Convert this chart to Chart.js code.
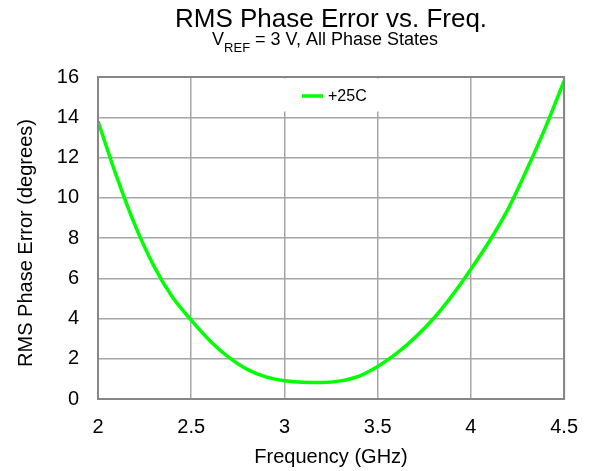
<!DOCTYPE html>
<html>
<head>
<meta charset="utf-8">
<script src="https://cdn.jsdelivr.net/npm/chart.js@4"></script>
<style>
  html, body { margin: 0; padding: 0; background: #fff; }
  #wrap { width: 594px; height: 471px; }
</style>
</head>
<body>
<div id="wrap"><canvas id="phaseChart" width="594" height="471"></canvas></div>
<script>
// Data
const freqGHz = [2.0, 2.1, 2.2, 2.3, 2.4, 2.5, 2.6, 2.7, 2.8, 2.9, 3.0, 3.1, 3.2,
                 3.3, 3.4, 3.5, 3.6, 3.7, 3.8, 3.9, 4.0, 4.1, 4.2, 4.3, 4.4, 4.5];
const rmsError = [13.8, 11.05, 8.6, 6.6, 5.05, 3.92, 2.9, 2.08, 1.47, 1.1, 0.91, 0.83, 0.82,
                  0.9, 1.14, 1.62, 2.25, 3.05, 4.0, 5.15, 6.45, 7.85, 9.45, 11.4, 13.5, 15.8];
const xTicks = [2, 2.5, 3, 3.5, 4, 4.5];
const yTicks = [0, 2, 4, 6, 8, 10, 12, 14, 16];
const seriesLabel = '+25C';

const FONT = 'Arial, "Liberation Sans", sans-serif';
const GRID = '#a6a6a6';
const FRAME = '#868686';

const textPlugin = {
    id: 'textPlugin',
    beforeDraw(chart) {
        const ctx = chart.ctx;
        ctx.save();
        ctx.fillStyle = '#fff';
        ctx.fillRect(0, 0, chart.width, chart.height);
        ctx.restore();
    },
    afterDraw(chart) {
        const ctx = chart.ctx;
        const area = chart.chartArea;
        const cx = (area.left + area.right) / 2;
        ctx.save();
        ctx.fillStyle = '#000';
        ctx.textBaseline = 'alphabetic';

        // main title
        ctx.font = '26px ' + FONT;
        ctx.textAlign = 'center';
        ctx.fillText('RMS Phase Error vs. Freq.', cx, 27);

        // subtitle with subscript
        const p1 = 'V', sub = 'REF', p2 = ' = 3 V, All Phase States';
        ctx.font = '18px ' + FONT;
        const w1 = ctx.measureText(p1).width, w2 = ctx.measureText(p2).width;
        ctx.font = '13px ' + FONT;
        const ws = ctx.measureText(sub).width;
        let x = cx - 6 - (w1 + ws + w2) / 2;
        ctx.textAlign = 'left';
        ctx.font = '18px ' + FONT;
        ctx.fillText(p1, x, 45);
        ctx.font = '13px ' + FONT;
        ctx.fillText(sub, x + w1, 52);
        ctx.font = '18px ' + FONT;
        ctx.fillText(p2, x + w1 + ws, 45);

        // axis titles
        ctx.font = '20px ' + FONT;
        ctx.textAlign = 'center';
        ctx.fillText('Frequency (GHz)', cx, 463);
        ctx.translate(32, (area.top + area.bottom) / 2 + 5);
        ctx.rotate(-Math.PI / 2);
        ctx.fillText('RMS Phase Error (degrees)', 0, 0);
        ctx.restore();
    },
    afterDatasetsDraw(chart) {
        // legend box inside the plot
        const ctx = chart.ctx;
        const ds = chart.data.datasets[0];
        ctx.save();
        ctx.fillStyle = '#fff';
        ctx.fillRect(280, 78.5, 104, 33);
        ctx.strokeStyle = ds.borderColor;
        ctx.lineWidth = 3.5;
        ctx.beginPath();
        ctx.moveTo(302, 96);
        ctx.lineTo(323, 96);
        ctx.stroke();
        ctx.fillStyle = '#000';
        ctx.font = '16px ' + FONT;
        ctx.textAlign = 'left';
        ctx.textBaseline = 'middle';
        ctx.fillText(ds.label, 328, 97);
        ctx.restore();
    }
};

new Chart(document.getElementById('phaseChart').getContext('2d'), {
    type: 'line',
    data: {
        datasets: [{
            label: seriesLabel,
            data: freqGHz.map((f, i) => ({ x: f, y: rmsError[i] })),
            borderColor: '#00ff00',
            borderWidth: 3.5,
            pointRadius: 0,
            cubicInterpolationMode: 'monotone',
            fill: false
        }]
    },
    options: {
        responsive: false,
        animation: false,
        layout: { padding: { top: 77, right: 28, left: 0, bottom: 0 } },
        plugins: { legend: { display: false }, title: { display: false }, tooltip: { enabled: false } },
        scales: {
            x: {
                type: 'linear',
                min: xTicks[0],
                max: xTicks[xTicks.length - 1],
                afterBuildTicks: s => { s.ticks = xTicks.map(v => ({ value: v })); },
                afterFit: s => { s.height = 72; },
                grid: { color: GRID, lineWidth: 1.5, drawTicks: false },
                border: { color: FRAME, width: 2 },
                ticks: { color: '#000', font: { family: FONT, size: 20 }, padding: 16, maxRotation: 0,
                         callback: v => String(v) }
            },
            y: {
                min: yTicks[0],
                max: yTicks[yTicks.length - 1],
                afterBuildTicks: s => { s.ticks = yTicks.map(v => ({ value: v })); },
                afterFit: s => { s.width = 98; },
                grid: { color: GRID, lineWidth: 1.5, drawTicks: false },
                border: { color: FRAME, width: 2 },
                ticks: { color: '#000', font: { family: FONT, size: 20 }, padding: 19,
                         callback: v => String(v) }
            }
        }
    },
    plugins: [textPlugin,
        {
            id: 'frame',
            afterDraw(chart) {
                const a = chart.chartArea, ctx = chart.ctx;
                ctx.save();
                ctx.strokeStyle = FRAME;
                ctx.lineWidth = 2;
                ctx.strokeRect(a.left, a.top, a.right - a.left, a.bottom - a.top);
                ctx.restore();
            }
        }]
});
</script>
</body>
</html>
